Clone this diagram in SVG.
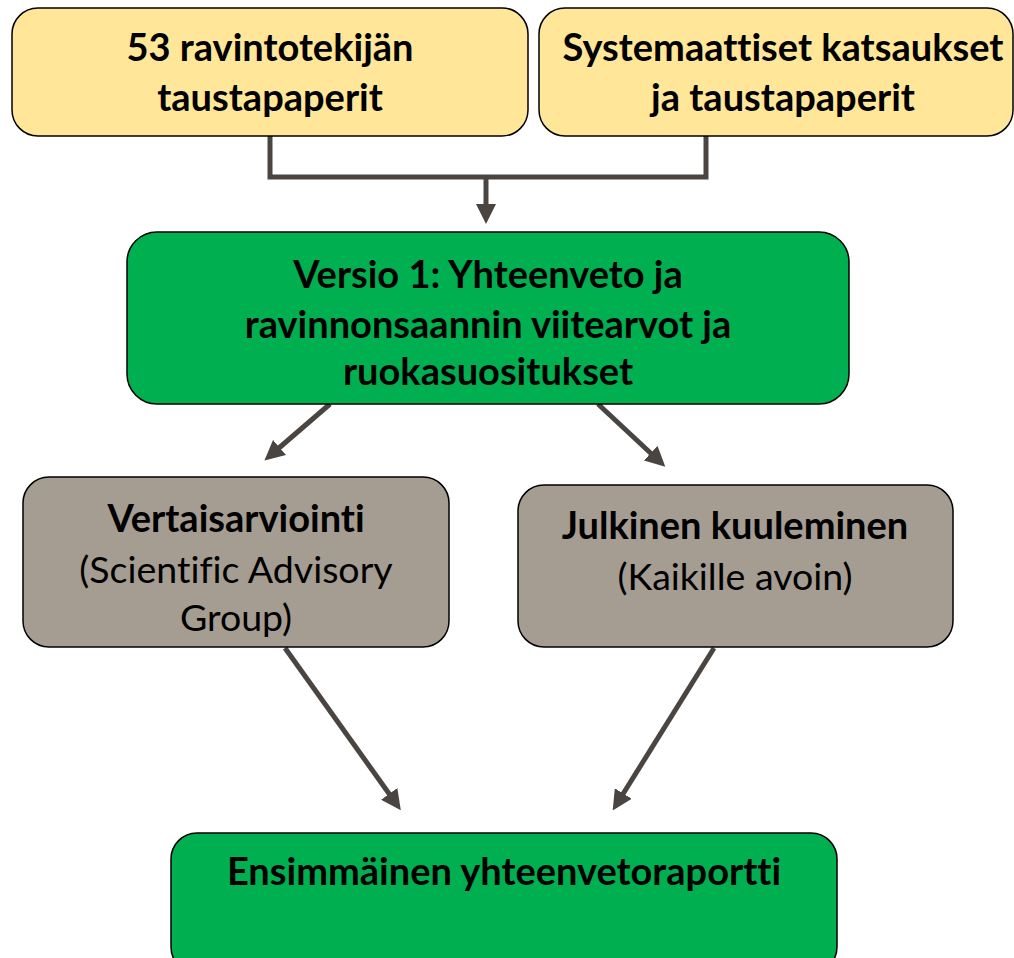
<svg xmlns="http://www.w3.org/2000/svg" width="1014" height="958" viewBox="0 0 1014 958">
<style>
.box{stroke:#000;stroke-width:1.5}
.y{fill:#FFE699}
.g{fill:#00B050}
.gr{fill:#A59D91}
text{font-family:Lato,"Open Sans","Liberation Sans",sans-serif;fill:#000;text-anchor:middle;font-size:37.5px;font-variant-ligatures:none}
.b{font-weight:bold;font-size:38px}
.c{fill:none;stroke:#4A4540;stroke-width:5}
</style>
<defs>
<marker id="ah" markerWidth="4" markerHeight="4" refX="2" refY="2" orient="auto" markerUnits="strokeWidth">
<path d="M0,0 L4,2 L0,4 z" fill="#4A4540"/>
</marker>
</defs>
<rect width="1014" height="958" fill="#fff"/>
<g id="connectors">
<polyline class="c" points="270,136 270,177 706,177 706,136"/>
<line class="c" x1="486" y1="177" x2="486" y2="214" marker-end="url(#ah)"/>
<line class="c" x1="330" y1="404" x2="272" y2="454" marker-end="url(#ah)"/>
<line class="c" x1="598" y1="404" x2="658" y2="460" marker-end="url(#ah)"/>
<line class="c" x1="285" y1="648" x2="395" y2="802" marker-end="url(#ah)"/>
<line class="c" x1="714" y1="648" x2="618" y2="802" marker-end="url(#ah)"/>
</g>
<g id="n1">
<rect class="box y" x="12" y="8" width="516" height="128" rx="26"/>
<text class="b" x="270" y="61">53 ravintotekijän</text>
<text class="b" x="270" y="111">taustapaperit</text>
</g>
<g id="n2">
<rect class="box y" x="539" y="8" width="474" height="128" rx="26"/>
<text class="b" x="783" y="61">Systemaattiset katsaukset</text>
<text class="b" x="783" y="111">ja taustapaperit</text>
</g>
<g id="n3">
<rect class="box g" x="127" y="232" width="722" height="172" rx="30"/>
<text class="b" x="488" y="288">Versio 1: Yhteenveto ja</text>
<text class="b" x="488" y="338">ravinnonsaannin viitearvot ja</text>
<text class="b" x="488" y="385">ruokasuositukset</text>
</g>
<g id="n4">
<rect class="box gr" x="23" y="477" width="426" height="170" rx="26"/>
<text class="b" x="236" y="532">Vertaisarviointi</text>
<text x="236" y="583">(Scientific Advisory</text>
<text x="236" y="631">Group)</text>
</g>
<g id="n5">
<rect class="box gr" x="518" y="485" width="435" height="162" rx="26"/>
<text class="b" x="735" y="539">Julkinen kuuleminen</text>
<text x="735" y="590">(Kaikille avoin)</text>
</g>
<g id="n6">
<rect class="box g" x="171" y="833" width="666" height="140" rx="26"/>
<text class="b" x="504" y="885">Ensimmäinen yhteenvetoraportti</text>
</g>
</svg>
